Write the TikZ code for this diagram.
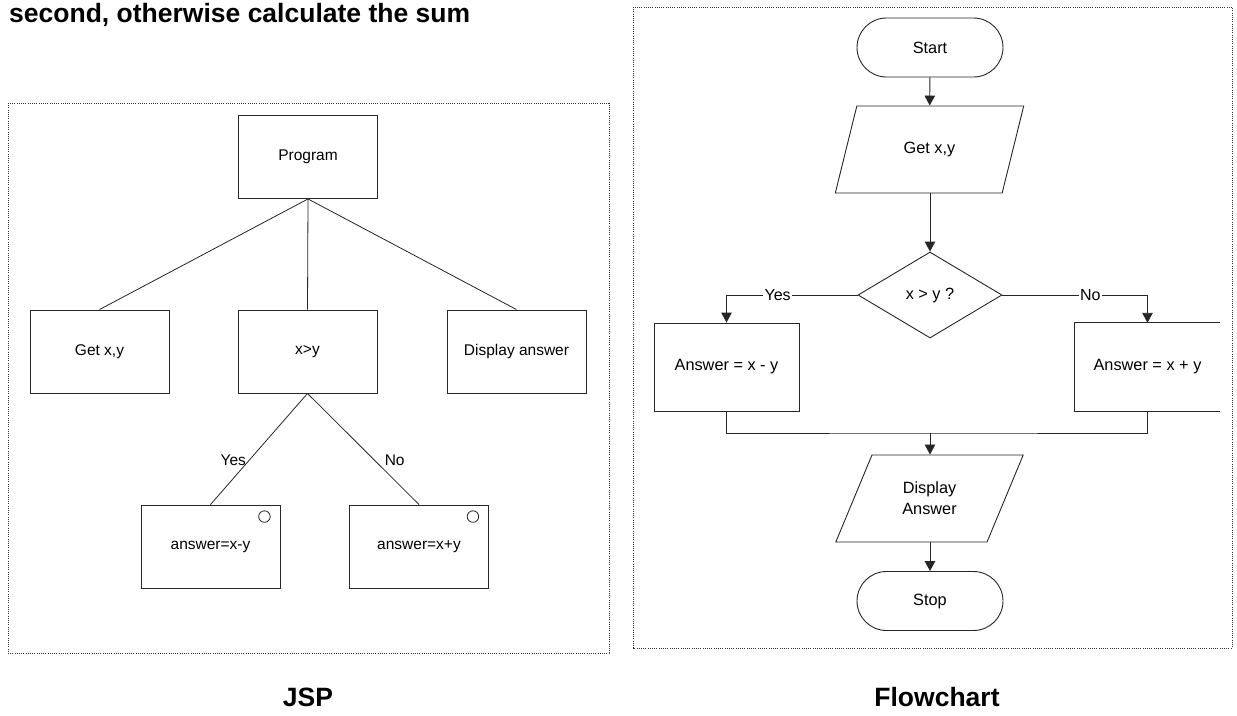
\documentclass[tikz,border=0pt]{standalone}
\usepackage{fontspec}
\setmainfont{Liberation Sans}
\usetikzlibrary{arrows.meta,shapes.geometric,shapes.misc}
\begin{document}
\begin{tikzpicture}[x=1pt,y=-1pt,
  every node/.style={inner sep=0pt},
  panel/.style={draw=black!80, line width=0.9pt, dash pattern=on 1pt off 1.2pt},
  caption/.style={font=\bfseries\fontsize{26.5}{30}\selectfont, anchor=base},
  jspbox/.style={draw=black!85, line width=0.9pt, rectangle, minimum width=139pt, minimum height=83pt, font=\fontsize{15.5}{18}\selectfont},
  jspline/.style={draw=black!85, line width=0.8pt},
  seqmark/.style={draw=black!85, line width=0.8pt, circle, minimum size=11.5pt},
  jsplabel/.style={font=\fontsize{15.5}{18}\selectfont, inner sep=1pt},
  fctext/.style={font=\fontsize{16.3}{20}\selectfont, align=center},
  terminal/.style={fctext, draw=black!85, line width=0.9pt, rounded rectangle, minimum width=146pt, minimum height=59pt},
  iobox/.style={fctext, draw=black!85, line width=0.9pt, trapezium, trapezium left angle=62.6, trapezium right angle=117.4, trapezium stretches=true, minimum width=189pt, minimum height=87pt},
  process/.style={fctext, draw=black!85, line width=0.9pt, rectangle, minimum width=145pt, minimum height=88pt},
  decision/.style={fctext, draw=black!85, line width=0.9pt, diamond, aspect=1.674, minimum width=144pt, minimum height=86pt},
  flow/.style={draw=black!85, line width=0.9pt, -{Triangle[length=10pt,width=10.5pt]}},
  plain/.style={draw=black!85, line width=0.9pt},
  branch/.style={font=\fontsize{16}{19}\selectfont, fill=white, inner sep=1.5pt}
]
\useasboundingbox (0,0) rectangle (1237,715);

% heading (second line of the exercise statement)
\node[font=\bfseries\fontsize{26.5}{30}\selectfont, anchor=base west] (heading) at (9,22) {second, otherwise calculate the sum};

% panel frames
\draw[panel] (8,103) rectangle (609,653);
\draw[panel] (633,7) rectangle (1232,648);

% ---------------- JSP structure ----------------
\node[jspbox] (prog) at (308,157) {Program};
\node[jspbox] (getxy) at (99.5,351.5) {Get x,y};
\node[jspbox] (cond) at (307.5,351.5) {x>y};
\node[jspbox] (show) at (516.5,351.5) {Display answer};
\node[jspbox] (diff) at (210.5,546.5) {answer=x-y};
\node[jspbox] (sum) at (419,546.5) {answer=x+y};
% selection markers in the upper right corner of each alternative
\node[seqmark] (diffmark) at ([xshift=-16pt,yshift=-12pt]diff.north east) {};
\node[seqmark] (summark) at ([xshift=-16pt,yshift=-12pt]sum.north east) {};

\draw[jspline] (prog.south) -- (getxy.north);
\draw[jspline] (prog.south) -- (cond.north);
\draw[jspline] (prog.south) -- (show.north);
\draw[jspline] (cond.south) -- node[jsplabel, pos=0.6, anchor=east, xshift=-2pt] {Yes} (diff.north);
\draw[jspline] (cond.south) -- node[jsplabel, pos=0.6, anchor=west, xshift=9pt] {No} (sum.north);

% ---------------- Flowchart ----------------
\node[terminal] (start) at (930,47.5) {Start};
\node[iobox] (input) at (929.5,149.5) {Get x,y};
\node[decision] (test) at (930,295) {x > y ?};
\node[process] (minus) at (726.5,367) {Answer = x - y};
\node[fctext, rectangle, minimum width=145pt, minimum height=88pt] (plus) at (1147.5,367) {Answer = x + y};
\draw[plain] (plus.north east) -- (plus.north west) -- (plus.south west) -- (plus.south east);
\node[iobox] (output) at (929.5,498.5) {Display\\[1pt]Answer};
\node[terminal] (stop) at (930,601) {Stop};
\coordinate (join) at (930,433);

\draw[flow] (start) -- (input);
\draw[flow] (input.south -| test.north) -- (test.north);
\draw[flow] (test.west) -| node[branch, pos=0.305] {Yes} (minus.north);
\draw[flow] (test.east) -| node[branch, pos=0.303] {No} (plus.north);
\draw[plain] (minus.south) |- (join) -| (plus.south);
\draw[flow] (join) -- (output.north -| join);
\draw[flow] (output.south -| stop.north) -- (stop.north);

% captions
\node[caption] (jspcap) at (308,706) {JSP};
\node[caption] (fccap) at (937,706) {Flowchart};
\end{tikzpicture}
\end{document}
